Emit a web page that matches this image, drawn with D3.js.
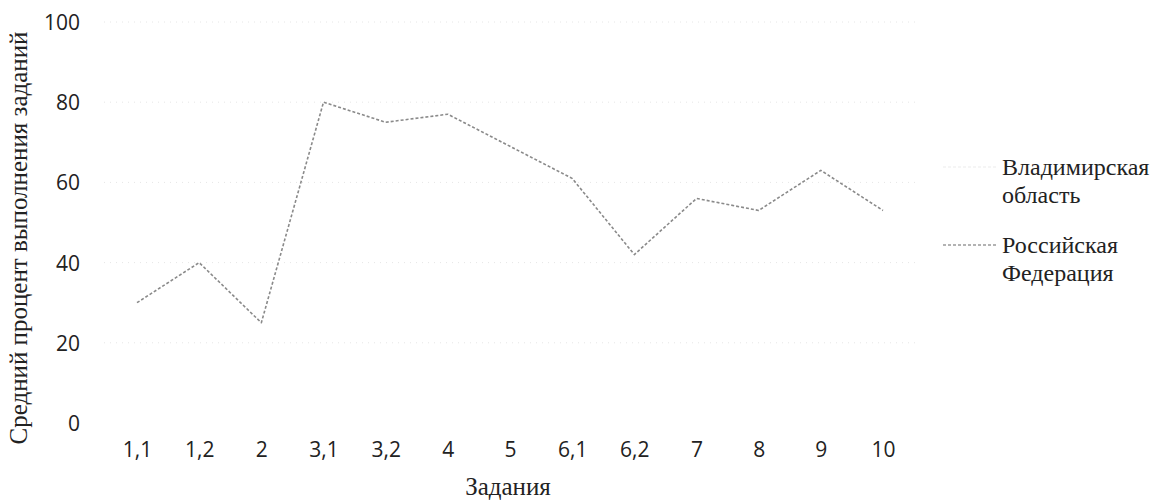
<!DOCTYPE html>
<html><head><meta charset="utf-8">
<script src="https://cdn.jsdelivr.net/npm/d3@7/dist/d3.min.js"></script>
<style>
html,body{margin:0;padding:0;background:#fff;}
svg{display:block;}
</style></head>
<body><svg id="chart" width="1160" height="504"></svg>
<script>
const categories = ["1,1","1,2","2","3,1","3,2","4","5","6,1","6,2","7","8","9","10"];
const rfValues = [30, 40, 25, 80, 75, 77, 69, 61, 42, 56, 53, 63, 53];
const yTicks = [0, 20, 40, 60, 80, 100];
const seriesNames = ["Владимирская область", "Российская Федерация"];
const yTitle = "Средний процент выполнения заданий";
const xTitle = "Задания";

const svg = d3.select("#chart");
const x = d3.scalePoint().domain(categories).range([137, 883]);
const y = d3.scaleLinear().domain([0, 100]).range([423, 22]);

// faint gridlines
svg.append("g").selectAll("line").data(yTicks.filter(d => d > 0)).join("line")
  .attr("x1", 104).attr("x2", 915)
  .attr("y1", d => y(d)).attr("y2", d => y(d))
  .attr("stroke", "#e6e6e6").attr("stroke-width", 1).attr("stroke-dasharray", "1,5");

// y axis
const yAxis = svg.append("g").attr("transform", "translate(80,0)")
  .call(d3.axisLeft(y).tickValues(yTicks).tickSize(0).tickPadding(0));
yAxis.select(".domain").remove();
yAxis.selectAll("text").attr("font-family", "'Open Sans', sans-serif").attr("font-size", 21)
  .attr("fill", "#222").attr("text-anchor", "end").attr("dy", "0.36em");

// x axis
const xAxis = svg.append("g").attr("transform", "translate(0,438)")
  .call(d3.axisBottom(x).tickSize(0).tickPadding(0));
xAxis.select(".domain").remove();
xAxis.selectAll("text").attr("font-family", "'Open Sans', sans-serif").attr("font-size", 21)
  .attr("fill", "#222").attr("dy", "0.9em");

// line
const line = d3.line().x((d, i) => x(categories[i])).y(d => y(d));
svg.append("path").datum(rfValues).attr("d", line)
  .attr("fill", "none").attr("stroke", "#8a8a8a").attr("stroke-width", 1.6)
  .attr("stroke-dasharray", "3,2").attr("stroke-linejoin", "round");

// titles
svg.append("text").attr("transform", "translate(27,238) rotate(-90)")
  .attr("text-anchor", "middle").attr("font-family", "'Liberation Serif', serif")
  .attr("font-size", 25).attr("fill", "#222").text(yTitle);
svg.append("text").attr("x", 508).attr("y", 495).attr("text-anchor", "middle")
  .attr("font-family", "'Liberation Serif', serif").attr("font-size", 25)
  .attr("fill", "#222").text(xTitle);

// legend
const legend = [
  {name: seriesNames[0], lines: ["Владимирская", "область"], y: 175, color: "#f2f2f2"},
  {name: seriesNames[1], lines: ["Российская", "Федерация"], y: 253, color: "#9a9a9a"}
];
const lg = svg.append("g").selectAll("g").data(legend).join("g");
lg.append("line").attr("x1", 943).attr("x2", 997)
  .attr("y1", d => d.y - 8).attr("y2", d => d.y - 8)
  .attr("stroke", d => d.color).attr("stroke-width", 1.6).attr("stroke-dasharray", "3,2");
lg.append("text").attr("x", 1002).attr("y", d => d.y)
  .attr("font-family", "'Liberation Serif', serif").attr("font-size", 24).attr("fill", "#222")
  .selectAll("tspan").data(d => d.lines).join("tspan")
  .attr("x", 1002).attr("dy", (d, i) => i === 0 ? 0 : 28).text(d => d);
</script></body></html>
